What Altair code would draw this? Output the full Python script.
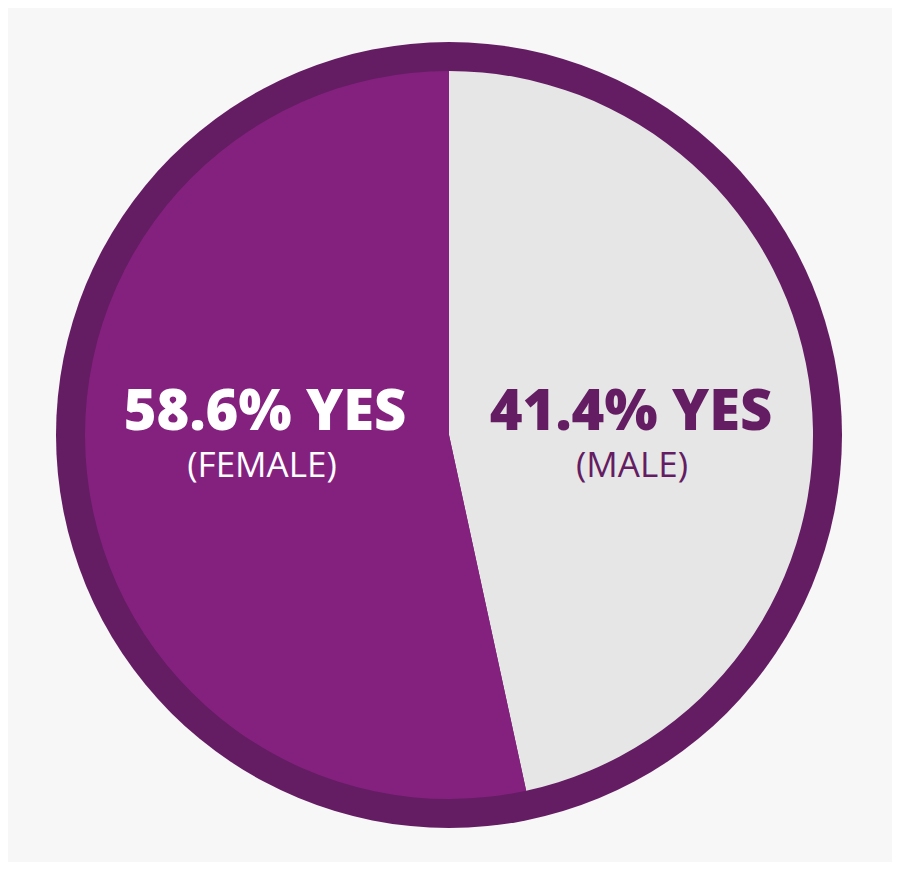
import math
import altair as alt
import pandas as pd

# data
groups = ["MALE", "FEMALE"]
shares_drawn = [46.6, 53.4]          # slice sizes as drawn in the picture
labels_main = ["41.4% YES", "58.6% YES"]
labels_sub = ["(MALE)", "(FEMALE)"]
order = [0, 1]

BG = "#f7f7f7"
RING = "#641d63"
FEMALE = "#84217f"
MALE = "#e6e6e6"

df = pd.DataFrame({"group": groups, "share": shares_drawn, "order": order})

CX, CY = 441, 427

ring = alt.Chart(pd.DataFrame({"v": [1]})).mark_arc(
    radius=393, color=RING, theta=0, theta2=2 * math.pi
).encode(x=alt.value(CX), y=alt.value(CY))

pie = alt.Chart(df).mark_arc(radius=364, strokeWidth=0).encode(
    theta=alt.Theta("share:Q", stack=True),
    order=alt.Order("order:Q"),
    color=alt.Color("group:N", scale=alt.Scale(domain=groups, range=[MALE, FEMALE]), legend=None),
    x=alt.value(CX), y=alt.value(CY),
)

def txt(text, x, y, size, weight, color):
    return alt.Chart(pd.DataFrame({"t": [text]})).mark_text(
        font="Open Sans", fontSize=size, fontWeight=weight, color=color,
        align="center", baseline="alphabetic"
    ).encode(text="t:N", x=alt.value(x), y=alt.value(y))

layers = [
    ring, pie,
    txt(labels_main[1], 265 - 8, 430 - 8, 56, 800, "white"),
    txt(labels_sub[1], 262 - 8, 477 - 8, 35, 400, "white"),
    txt(labels_main[0], 631 - 8, 430 - 8, 56, 800, RING),
    txt(labels_sub[0], 632 - 8, 477 - 8, 35, 400, RING),
]

chart = alt.layer(*layers).properties(
    width=884, height=854, background=BG, padding=0,
    autosize=alt.AutoSizeParams(type="none"),
).configure_view(stroke=None)

chart.save("out.html", embed_options={"renderer": "svg", "actions": False})
